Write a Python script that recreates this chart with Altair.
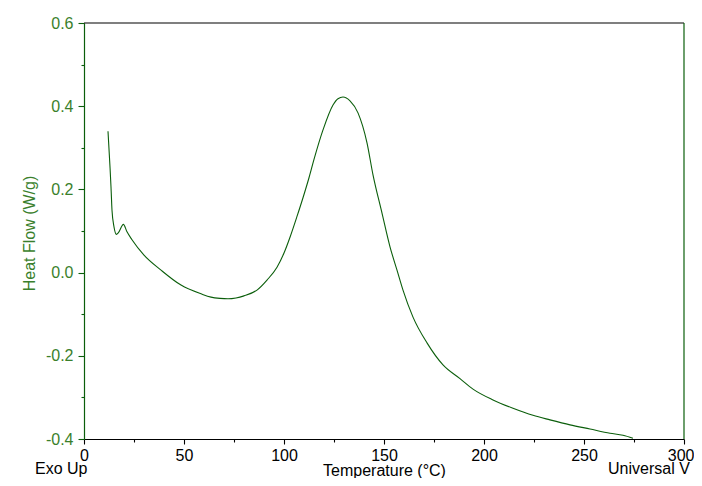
import altair as alt
import pandas as pd

# Temperature (°C) and heat flow (W/g)
temperature = [12, 13, 13.5, 14, 15, 16.2, 17.2, 19.7, 21.5, 24, 30, 38.5, 48.5,
               58.5, 63.5, 68, 72, 76, 80, 86.5, 91.5, 96.5, 100, 103, 106.5, 109.5,
               112.5, 115, 119.5, 124.5, 127, 129.5, 133, 137, 141.5, 144.5,
               149, 153, 156.5, 159.5, 164.5, 171.5, 179.5, 188, 194.5, 204.5,
               214.5, 224.5, 233, 243, 253, 263, 269.5, 274.5]
heat_flow = [0.340, 0.254, 0.206, 0.150, 0.110, 0.092, 0.096, 0.116, 0.098, 0.079,
             0.042, 0.006, -0.030, -0.051, -0.059, -0.062, -0.063, -0.061, -0.056,
             -0.042, -0.018, 0.013, 0.047, 0.085, 0.135, 0.180, 0.228, 0.272,
             0.343, 0.403, 0.418, 0.422, 0.413, 0.384, 0.312, 0.235, 0.143, 0.062,
             0.006, -0.042, -0.107, -0.169, -0.222, -0.255, -0.280, -0.306, -0.326,
             -0.343, -0.354, -0.366, -0.376, -0.386, -0.391, -0.398]

x_ticks = [12.5 * i for i in range(25)]
y_ticks = [round(-0.4 + 0.05 * i, 2) for i in range(21)]

GREEN = "#0b5e0b"
LABEL_GREEN = "#3a7f2c"
FONT = "Liberation Sans"

df = pd.DataFrame({"T": temperature, "HF": heat_flow})
one = pd.DataFrame({"a": [0]})

x_scale = alt.Scale(domain=[0, 300], nice=False, zero=False)
y_scale = alt.Scale(domain=[-0.4, 0.6], nice=False, zero=False)

x_axis = alt.Axis(
    values=x_ticks,
    labelExpr="datum.value % 50 === 0 ? datum.label : ''",
    tickSize={"condition": {"test": "datum.value % 50 === 0", "value": 5}, "value": 3},
    labelAlign={"condition": {"test": "datum.value === 300", "value": "right"}, "value": "center"},
    labelOffset={"condition": {"test": "datum.value === 300", "value": 10}, "value": 0},
    labelPadding=3,
    domainColor="black", tickColor="black", labelColor="black",
    titleColor="black", grid=False, labelFlush=False,
    title="Temperature (°C)", titleX=300, titleY=31, titleBaseline="middle",
    titleFontWeight="normal",
)
y_axis = alt.Axis(
    values=y_ticks,
    labelExpr="abs(datum.value*5 - round(datum.value*5)) < 0.001 ? replace(format(datum.value, '.1f'), '−', '-') : ''",
    tickSize={"condition": {"test": "abs(datum.value*5 - round(datum.value*5)) < 0.001", "value": 6}, "value": 3},
    labelPadding=5,
    domainColor=GREEN, tickColor=GREEN, labelColor=LABEL_GREEN,
    titleColor=LABEL_GREEN, grid=False, labelFlush=False,
    title="Heat Flow (W/g)", titleX=-55, titleY=210, titleAngle=-90,
    titleAlign="center", titleBaseline="middle", titleFontWeight="normal",
)

line = alt.Chart(df).mark_line(color=GREEN, strokeWidth=1.1, interpolate="monotone").encode(
    x=alt.X("T:Q", scale=x_scale, axis=x_axis),
    y=alt.Y("HF:Q", scale=y_scale, axis=y_axis),
)

top_rule = alt.Chart(one).mark_rule(color="black", strokeWidth=1.2).encode(
    y=alt.datum(0.6)
)
right_rule = alt.Chart(one).mark_rule(color=GREEN, strokeWidth=1.2).encode(
    x=alt.datum(300)
)

exo = alt.Chart(one).mark_text(
    text="Exo Up", align="left", baseline="middle", font=FONT, fontSize=16, color="black"
).encode(x=alt.value(-49), y=alt.value(446))

universal = alt.Chart(one).mark_text(
    text="Universal V", align="left", baseline="middle",
    font=FONT, fontSize=16, color="black"
).encode(x=alt.value(524), y=alt.value(446))

chart = alt.layer(line, top_rule, right_rule, exo, universal).properties(
    width=600, height=416,
    padding={"left": 76, "top": 15, "right": 10, "bottom": 39},
    autosize=alt.AutoSizeParams(type="none"),
    background="white",
).configure_view(stroke=None).configure_axis(
    labelFont=FONT, titleFont=FONT, labelFontSize=16, titleFontSize=16,
    domainWidth=1.2, tickWidth=1.1,
)

chart.save("out.html", embed_options={"renderer": "svg", "actions": False})
